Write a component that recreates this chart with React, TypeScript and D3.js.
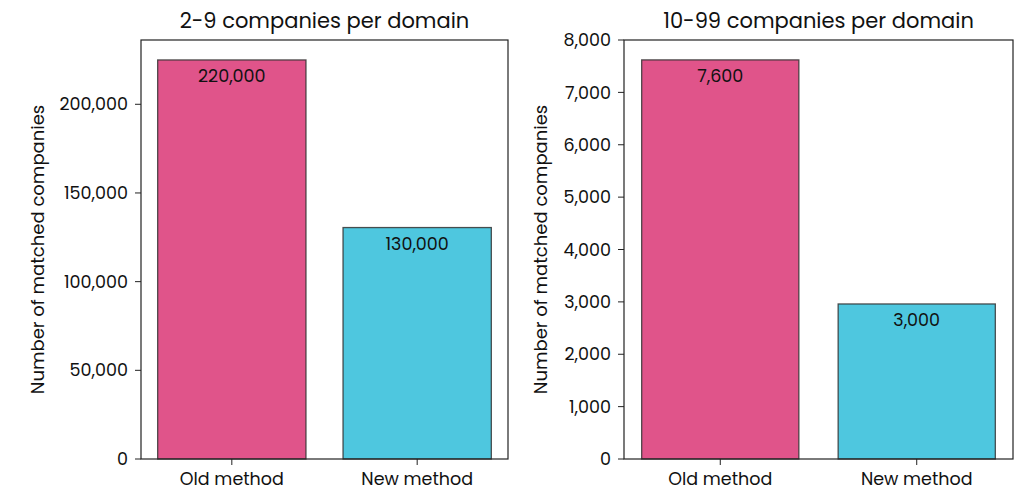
import React from "react";
import * as d3 from "d3";

const categories = ["Old method", "New method"];
const panelTitles = ["2-9 companies per domain", "10-99 companies per domain"];
const valuesSmall = [225000, 130500];
const labelsSmall = ["220,000", "130,000"];
const ticksSmall = [0, 50000, 100000, 150000, 200000];
const valuesLarge = [7620, 2960];
const labelsLarge = ["7,600", "3,000"];
const ticksLarge = [0, 1000, 2000, 3000, 4000, 5000, 6000, 7000, 8000];
const yMaxLarge = 8000;
const colors = ["#E0548A", "#4EC7DF"];
const yLabel = "Number of matched companies";

const FONT = "Poppins, 'Open Sans', sans-serif";
const fmt = d3.format(",");

function Panel({ x0, x1, title, values, labels, ticks, yMax, ylx }: any) {
  const top = 40, bottom = 459;
  const y = d3.scaleLinear().domain([0, yMax]).range([bottom, top]);
  const x = d3.scaleLinear().domain([-0.4 - 0.09, 1.4 + 0.09]).range([x0, x1]);
  const bw = x(0.8) - x(0);
  return (
    <g fontFamily={FONT}>
      <text x={(x0 + x1) / 2} y={28} textAnchor="middle" fontSize={21} fill="#111">{title}</text>
      {values.map((v: number, i: number) => (
        <g key={i}>
          <rect x={x(i) - bw / 2} y={y(v)} width={bw} height={bottom - y(v)} fill={colors[i]} stroke="#333" strokeOpacity={0.85} strokeWidth={1.3} />
          <text x={x(i)} y={y(v) + 22} textAnchor="middle" fontSize={17.5} fill="#111">{labels[i]}</text>
          <line x1={x(i)} x2={x(i)} y1={bottom} y2={bottom + 6} stroke="#222" strokeWidth={1} />
          <text x={x(i)} y={bottom + 26} textAnchor="middle" fontSize={17.5} fill="#111">{categories[i]}</text>
        </g>
      ))}
      {ticks.map((t: number) => (
        <g key={t}>
          <line x1={x0 - 6} x2={x0} y1={y(t)} y2={y(t)} stroke="#222" strokeWidth={1} />
          <text x={x0 - 13} y={y(t)} dy="0.35em" textAnchor="end" fontSize={17.5} fill="#111">{fmt(t)}</text>
        </g>
      ))}
      <rect x={x0} y={top} width={x1 - x0} height={bottom - top} fill="none" stroke="#222" strokeWidth={1.2} />
      <text transform={`translate(${ylx},${(top + bottom) / 2}) rotate(-90)`} dy="0.35em" textAnchor="middle" fontSize={18} fill="#111">{yLabel}</text>
    </g>
  );
}

export default function App() {
  return (
    <svg width={1024} height={500} style={{ position: "absolute", left: 0, top: 0, background: "#fff" }}>
      <rect width={1024} height={500} fill="#fff" />
      <Panel x0={141} x1={508} ylx={38} title={panelTitles[0]} values={valuesSmall} labels={labelsSmall} ticks={ticksSmall} yMax={valuesSmall[0] * 1.05} />
      <Panel x0={624} x1={1013} ylx={541} title={panelTitles[1]} values={valuesLarge} labels={labelsLarge} ticks={ticksLarge} yMax={yMaxLarge} />
    </svg>
  );
}
